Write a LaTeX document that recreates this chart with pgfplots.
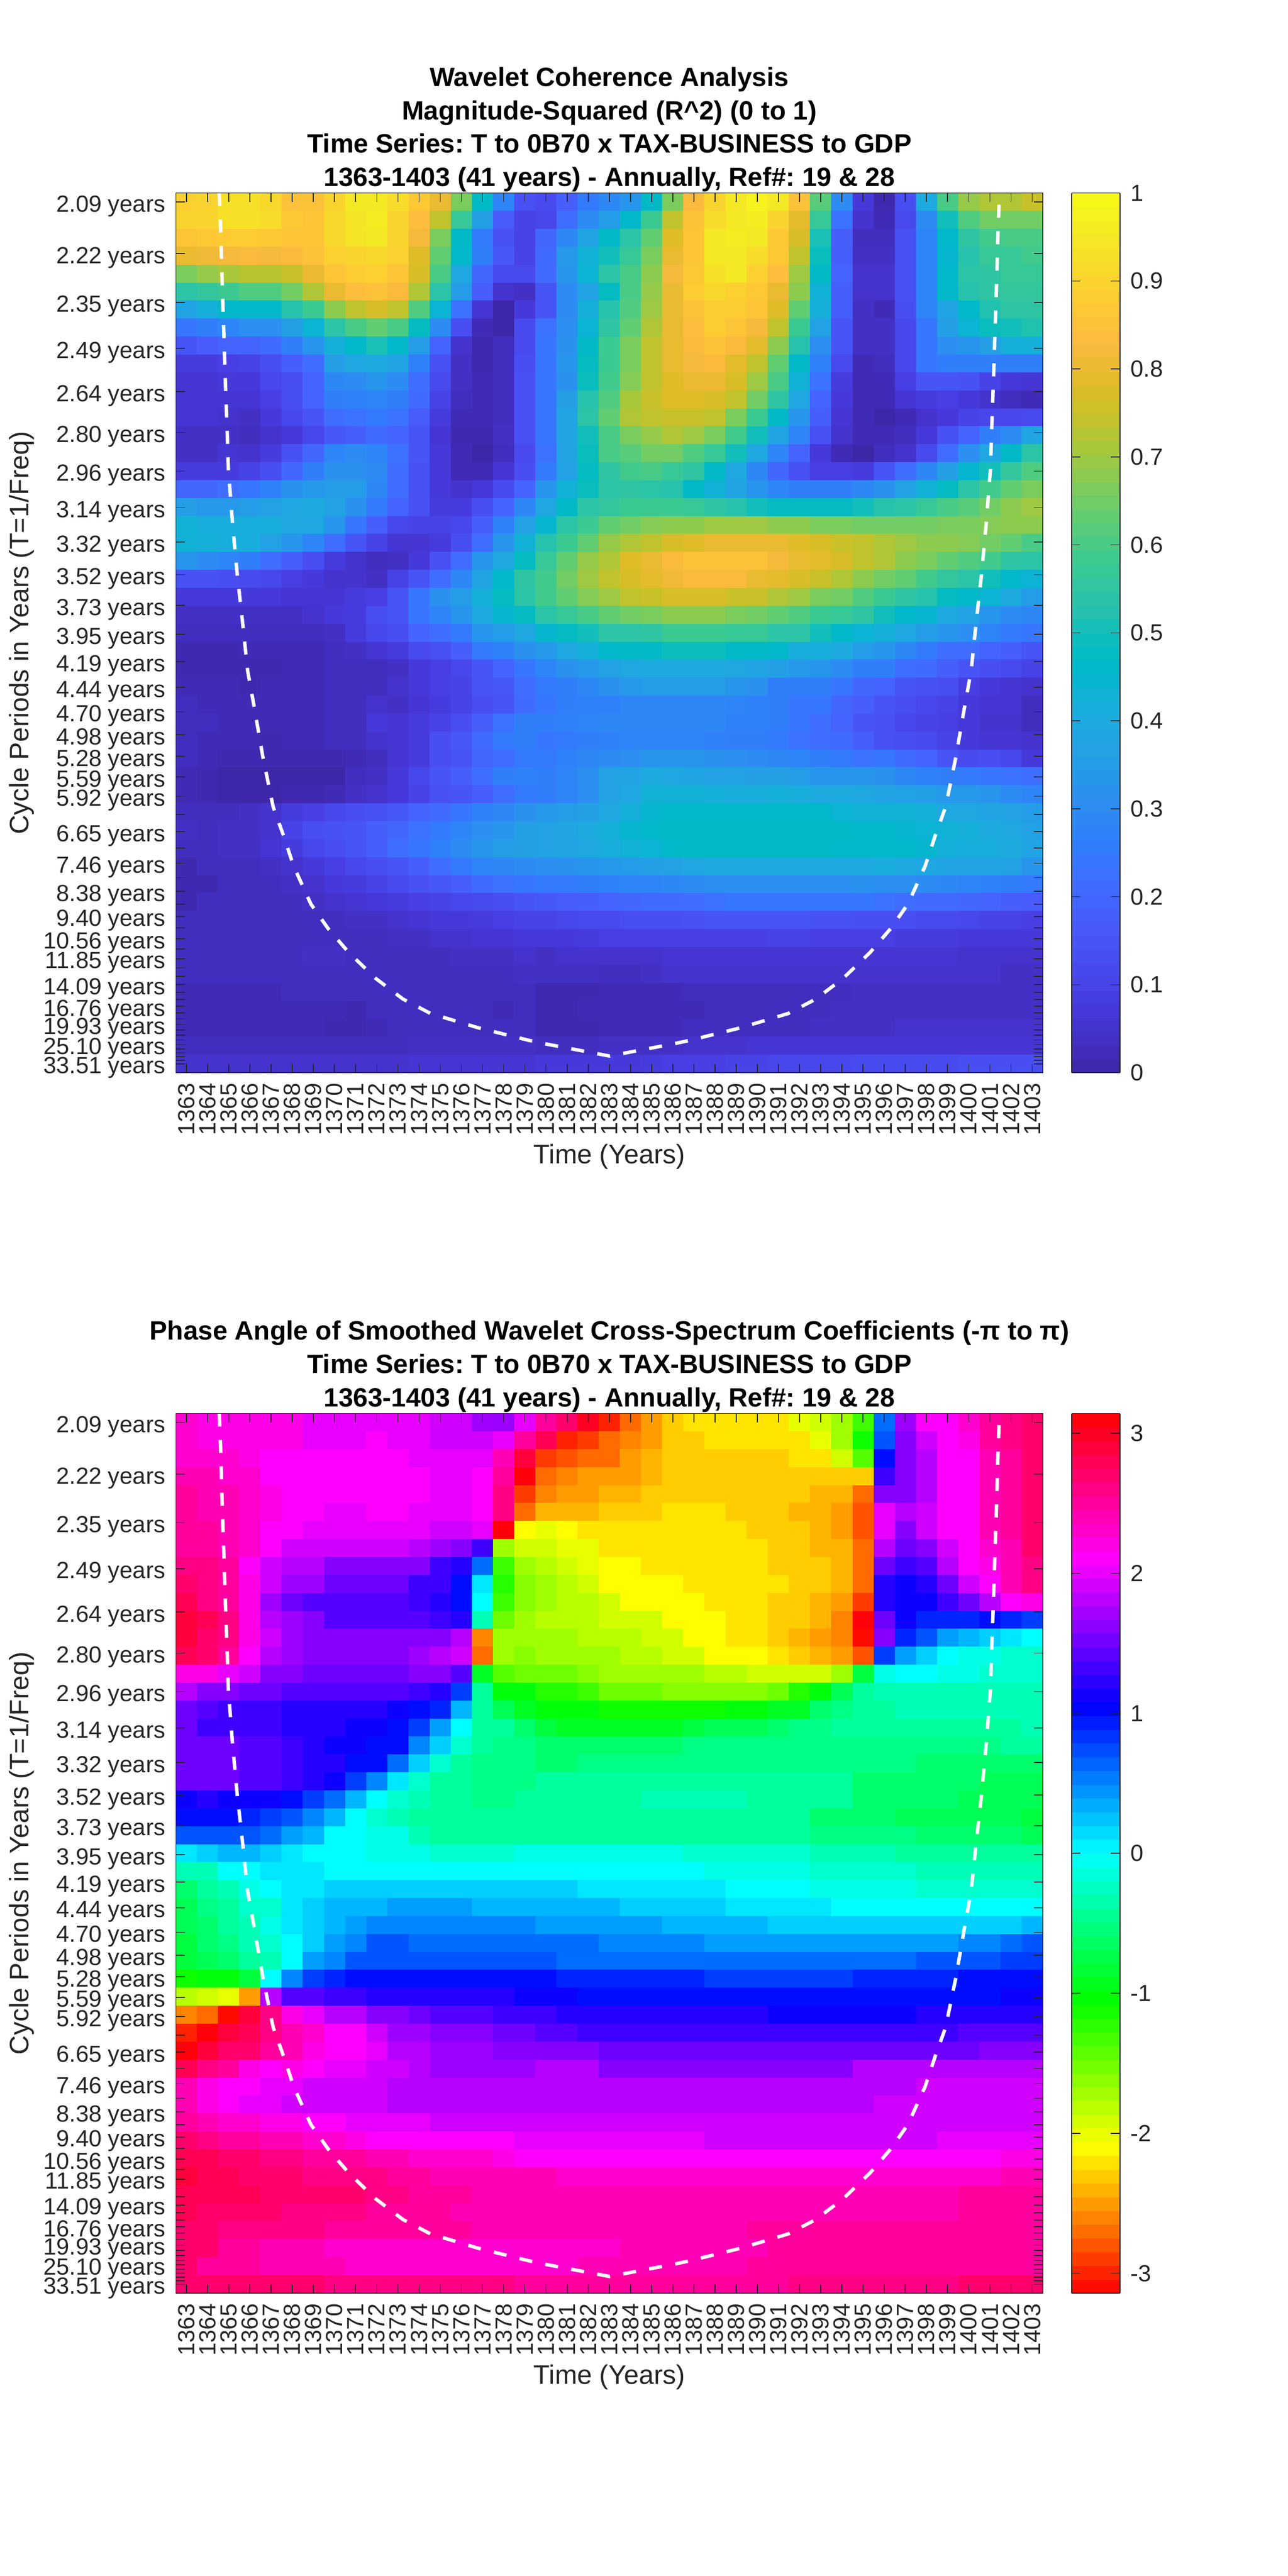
\documentclass[border=0pt]{standalone}
\usepackage{fontspec}
\setmainfont{Liberation Sans}
\usepackage{pgfplots}
\usepackage{pgfplotstable}
\pgfplotsset{compat=1.18}
\definecolor{mgray}{rgb}{0.15,0.15,0.15}
\pgfdeclareplotmark{cell}{\pgfpathrectangle{\pgfqpoint{-6.2384pt}{-5.3084pt}}{\pgfqpoint{12.4768pt}{10.6168pt}}\pgfusepathqfill}
\pgfplotsset{
colormap={parula}{rgb=(.2422,.1504,.6603) rgb=(.2504,.1650,.7076) rgb=(.2578,.1818,.7511) rgb=(.2647,.1978,.7952) rgb=(.2706,.2147,.8364) rgb=(.2751,.2342,.8710) rgb=(.2783,.2559,.8991) rgb=(.2803,.2782,.9221) rgb=(.2813,.3006,.9414) rgb=(.2810,.3228,.9579) rgb=(.2795,.3447,.9717) rgb=(.2760,.3667,.9829) rgb=(.2699,.3892,.9906) rgb=(.2602,.4123,.9952) rgb=(.2440,.4358,.9988) rgb=(.2206,.4603,.9973) rgb=(.1963,.4847,.9892) rgb=(.1834,.5074,.9798) rgb=(.1786,.5289,.9682) rgb=(.1764,.5499,.9520) rgb=(.1687,.5703,.9359) rgb=(.1540,.5902,.9218) rgb=(.1460,.6091,.9079) rgb=(.1380,.6276,.8973) rgb=(.1248,.6459,.8883) rgb=(.1113,.6635,.8763) rgb=(.0952,.6798,.8598) rgb=(.0689,.6948,.8394) rgb=(.0297,.7082,.8163) rgb=(.0036,.7203,.7917) rgb=(.0067,.7312,.7660) rgb=(.0433,.7411,.7394) rgb=(.0964,.7500,.7120) rgb=(.1408,.7584,.6842) rgb=(.1717,.7670,.6554) rgb=(.1938,.7758,.6251) rgb=(.2161,.7843,.5923) rgb=(.2470,.7918,.5567) rgb=(.2906,.7973,.5188) rgb=(.3406,.8008,.4789) rgb=(.3909,.8029,.4354) rgb=(.4456,.8024,.3909) rgb=(.5044,.7993,.3480) rgb=(.5616,.7942,.3045) rgb=(.6174,.7876,.2612) rgb=(.6720,.7793,.2227) rgb=(.7242,.7698,.1910) rgb=(.7738,.7598,.1646) rgb=(.8203,.7498,.1535) rgb=(.8634,.7406,.1596) rgb=(.9035,.7330,.1774) rgb=(.9393,.7288,.2100) rgb=(.9728,.7298,.2394) rgb=(.9956,.7434,.2371) rgb=(.9970,.7659,.2199) rgb=(.9952,.7893,.2028) rgb=(.9892,.8136,.1885) rgb=(.9786,.8386,.1766) rgb=(.9676,.8639,.1643) rgb=(.9610,.8890,.1537) rgb=(.9597,.9135,.1423) rgb=(.9628,.9373,.1265) rgb=(.9691,.9606,.1064) rgb=(.9769,.9839,.0805)},
colormap={hsvm}{rgb=(1,0,0) rgb=(1,1,0) rgb=(0,1,0) rgb=(0,1,1) rgb=(0,0,1) rgb=(1,0,1) rgb=(1,0,0)},
wstyle/.style={
 scale only axis, width=504.96pt, height=512.4pt,
 xmin=1362.5, xmax=1403.5, ymin=-0.5, ymax=48.5, y dir=reverse,
 axis on top, clip marker paths=true, tick align=inside, tick pos=both,
 xticklabel pos=lower, yticklabel pos=left,
 major tick length=5.2pt,
 axis line style={color=mgray,line width=0.5pt},
 every tick/.style={color=mgray,line width=0.5pt},
 xtick={1363,...,1403},
 xticklabels={1363,1364,1365,1366,1367,1368,1369,1370,1371,1372,1373,1374,1375,1376,1377,1378,1379,1380,1381,1382,1383,1384,1385,1386,1387,1388,1389,1390,1391,1392,1393,1394,1395,1396,1397,1398,1399,1400,1401,1402,1403},
 ytick={0,2.874,5.586,8.146,10.562,12.843,14.996,17.028,18.946,20.757,22.465,24.078,25.6,27.037,28.393,29.673,30.881,32.022,33.098,34.114,35.073,35.978,36.833,37.639,38.4,39.118,39.797,40.437,41.040,41.611,42.149,42.657,43.137,43.589,44.016,44.420,44.8,45.159,45.498,45.818,46.120,46.406,46.674,46.928,47.168,47.394,47.608,47.810,48},
 yticklabels={2.09 years,2.22 years,2.35 years,2.49 years,2.64 years,2.80 years,2.96 years,3.14 years,3.32 years,3.52 years,3.73 years,3.95 years,4.19 years,4.44 years,4.70 years,4.98 years,5.28 years,5.59 years,5.92 years,{},6.65 years,{},7.46 years,{},8.38 years,{},9.40 years,{},10.56 years,{},11.85 years,{},{},14.09 years,{},{},16.76 years,{},{},19.93 years,{},{},{},25.10 years,{},{},{},{},33.51 years},
 xticklabel style={rotate=90,anchor=east,inner sep=0pt,font=\fontsize{13.6}{13.6}\selectfont,text=mgray},
 yticklabel style={anchor=east,inner sep=0pt,yshift=-2.4pt,font=\fontsize{13.6}{13.6}\selectfont,text=mgray},
 xticklabel shift=6pt, yticklabel shift=6pt,
 xlabel={Time (Years)}, ylabel={Cycle Periods in Years (T=1/Freq)},
 every axis x label/.style={at={(axis description cs:0.5,0)},yshift=-49pt,anchor=center,font=\fontsize{15.6}{18}\selectfont,text=mgray},
 every axis y label/.style={at={(axis description cs:0,0.5)},xshift=-90pt,rotate=90,anchor=center,font=\fontsize{15.6}{18}\selectfont,text=mgray},
 title style={at={(axis description cs:0.5,1)},anchor=south,align=center,inner sep=0pt,yshift=-5.4pt,font=\fontsize{15.4}{19.4}\selectfont\bfseries},
 colorbar, colorbar sampled,
},
cbstyle/.style={
 at={(parent axis.north east)}, xshift=8.26pt, anchor=north west,
 width=28.08pt, height=512.4pt, scale only axis, samples=65,
 tick align=inside, major tick length=5.2pt,
 axis line style={color=mgray,line width=0.5pt},
 every tick/.style={color=mgray,line width=0.5pt},
 yticklabel pos=right, yticklabel shift=6pt,
 yticklabel style={anchor=west,inner sep=0pt,font=\fontsize{13.6}{13.6}\selectfont,text=mgray},
},
}
\pgfplotstableread[header=false]{
89 90 93 93 91 85 85 90 95 95 92 87 80 66 47 28 14 12 18 25 29 33 47 66 83 90 95 98 95 85 62 30 7 1 13 40 60 69 72 72 75
90 90 93 93 92 87 86 91 94 96 90 84 74 57 36 17 10 11 22 30 35 46 58 74 85 92 95 96 90 79 57 23 5 2 12 30 50 61 65 65 65
86 87 88 88 87 86 86 91 94 95 90 82 66 47 25 14 10 20 29 38 47 54 63 78 86 95 96 95 87 77 51 18 3 3 14 28 46 55 59 60 60
80 81 82 83 82 83 85 89 90 91 89 78 63 46 26 16 10 21 34 43 50 57 66 80 86 95 95 92 87 74 49 18 4 4 14 28 45 53 57 57 59
66 69 71 73 73 75 80 86 88 89 86 77 60 39 20 12 12 21 33 44 54 60 68 82 87 93 95 89 84 70 47 19 5 5 14 28 46 54 55 57 57
54 56 58 61 61 65 72 80 84 85 83 72 54 35 17 5 4 15 30 38 48 60 69 80 88 91 89 87 80 68 43 18 5 5 14 28 46 53 55 56 56
38 42 46 46 46 53 58 68 74 77 74 61 44 23 6 0 7 15 30 42 53 61 70 80 85 88 88 86 78 63 42 18 4 2 13 28 38 46 52 55 55
24 26 28 31 31 36 44 54 60 63 60 48 30 13 2 0 12 23 31 44 55 63 72 80 84 88 86 82 74 58 37 15 4 4 11 24 36 44 49 50 52
15 17 19 19 21 26 33 42 46 51 46 35 19 5 1 3 12 24 32 47 58 66 74 80 83 85 83 79 68 53 31 15 4 4 11 24 31 33 36 42 42
8 8 9 10 13 18 22 36 39 40 38 27 14 4 1 3 13 24 33 48 58 66 74 80 82 83 79 74 63 47 27 12 2 3 11 24 26 26 26 26 26
6 6 7 7 11 13 19 29 30 33 30 22 12 4 2 3 14 24 32 49 59 67 74 78 80 80 77 70 60 43 23 8 2 2 9 15 15 14 10 7 6
6 6 6 6 9 13 19 26 27 28 26 21 10 3 2 3 14 24 36 53 61 71 75 78 78 77 74 65 55 39 19 7 2 2 6 8 9 7 5 3 2
6 6 5 4 7 11 15 22 23 25 23 17 8 2 2 3 14 24 38 54 63 72 74 75 75 74 66 58 47 33 18 6 2 0 2 5 7 10 11 11 12
4 4 4 3 5 7 11 16 18 21 19 15 6 1 1 4 14 24 38 50 60 66 69 72 70 66 59 50 38 28 14 5 2 2 3 7 14 19 26 30 38
4 4 6 5 8 14 20 28 30 28 23 15 7 2 0 3 12 23 38 49 60 62 65 65 61 57 50 39 28 19 7 2 0 3 5 12 22 31 39 47 54
8 8 8 10 13 20 26 32 32 30 22 14 7 2 2 6 13 25 37 48 55 59 60 57 55 47 39 29 20 14 9 9 8 15 22 29 36 45 50 56 61
20 20 22 24 27 32 34 35 35 29 22 14 7 5 7 12 19 33 43 49 54 55 54 53 47 43 38 33 28 26 26 26 29 32 37 43 48 54 59 63 66
36 34 34 35 37 39 40 37 32 25 19 14 8 8 13 19 29 39 47 54 56 58 58 58 57 55 53 50 48 48 48 48 50 53 54 57 60 62 65 68 70
43 41 41 41 41 39 39 33 24 18 11 10 10 11 18 27 37 45 54 58 63 65 67 68 68 70 70 70 68 68 66 66 65 65 65 65 66 66 67 68 68
43 42 41 41 37 33 28 22 15 10 6 6 8 13 22 33 43 53 58 63 69 72 74 77 78 80 80 80 80 78 77 75 74 72 70 68 68 67 65 63 60
33 30 28 26 22 18 13 8 5 3 4 7 14 22 33 39 48 57 63 69 72 78 80 83 85 85 85 85 82 80 79 77 74 72 68 66 63 61 59 55 54
14 14 13 12 11 9 7 5 5 4 10 15 22 29 38 46 55 59 65 70 74 77 79 81 83 83 83 80 79 77 75 72 68 65 63 59 56 54 50 46 44
7 7 7 7 7 6 6 6 8 9 15 24 32 35 42 48 54 59 63 67 70 74 75 77 77 77 75 75 72 70 66 65 61 58 55 53 48 46 44 40 35
4 4 4 4 4 4 5 7 8 13 15 24 28 33 40 45 48 54 57 60 63 65 66 68 68 68 66 65 63 61 58 57 55 50 46 45 40 38 33 30 29
3 3 3 3 3 3 3 4 8 11 13 19 22 25 33 35 39 45 48 50 54 54 55 58 58 58 57 57 54 54 50 46 44 42 39 35 33 31 28 25 24
1 1 1 2 2 2 2 3 4 6 8 12 14 18 25 27 32 34 39 42 46 47 47 49 49 49 47 47 46 41 41 40 35 33 29 25 22 22 19 18 15
1 1 1 1 1 2 2 3 3 3 4 7 9 11 15 19 24 28 32 34 37 39 40 40 40 40 39 38 36 34 33 30 26 26 22 21 18 15 13 12 10
2 2 2 1 2 2 2 3 3 3 5 7 9 10 15 16 22 25 26 29 32 34 35 35 35 35 33 32 26 26 26 24 20 19 15 14 13 9 7 6 5
3 2 2 2 2 2 2 3 3 5 4 6 8 10 13 15 21 24 26 27 27 29 29 29 29 29 28 27 26 24 24 20 18 15 13 11 10 7 6 6 3
3 3 2 2 2 2 2 3 3 7 6 8 10 13 18 23 26 26 27 28 29 29 29 29 29 29 27 27 26 24 22 19 15 14 11 10 9 7 5 5 3
3 2 2 2 1 2 2 3 3 5 6 8 13 16 21 25 26 24 25 26 27 28 28 28 28 27 26 26 25 23 22 21 18 14 13 12 10 7 6 6 5
3 2 1 1 1 1 1 1 2 3 6 8 13 15 20 22 25 25 27 29 30 31 33 33 33 32 31 30 29 28 26 25 23 24 21 19 15 12 13 11 7
2 1 0 0 0 0 0 0 3 4 7 11 15 18 22 26 27 26 28 31 37 38 40 39 38 37 37 36 36 35 33 33 33 32 29 27 26 25 24 23 22
2 1 0 0 0 1 1 2 4 5 7 10 14 15 18 22 25 26 28 31 37 39 43 43 43 42 41 41 42 41 40 40 39 38 37 36 34 34 33 30 28
3 3 3 4 5 8 9 11 13 14 16 19 21 24 27 29 32 34 35 36 39 42 45 46 46 46 46 46 46 46 46 44 43 43 43 42 39 39 38 37 35
4 3 4 4 5 10 13 14 15 18 20 23 25 28 31 33 36 37 38 40 42 45 46 47 47 47 47 47 47 47 47 47 46 46 45 44 43 42 40 39 37
3 3 4 4 6 8 11 13 15 18 22 24 27 30 33 35 36 37 38 39 41 43 44 46 47 47 47 47 47 47 47 46 46 46 46 45 42 41 41 40 38
1 3 3 3 4 5 7 9 11 13 15 18 22 25 28 29 30 31 32 33 34 35 36 37 39 40 40 40 40 40 40 40 40 41 40 39 38 38 38 37 33
1 1 3 3 3 4 5 7 8 10 12 14 16 18 21 23 24 25 25 26 27 28 28 29 30 31 31 31 31 31 31 31 32 31 31 30 29 28 27 26 25
1 3 3 3 3 3 4 5 6 7 8 9 10 11 12 13 15 16 17 18 19 20 21 21 22 23 24 24 24 24 24 24 24 23 22 21 21 20 19 18 17
3 3 3 3 3 3 3 3 4 4 5 6 7 7 8 9 10 10 11 12 12 13 13 13 14 15 15 15 15 15 14 14 13 13 13 12 12 11 10 10 9
3 3 3 3 3 3 3 3 3 3 4 4 5 5 6 6 7 7 7 8 9 9 9 9 9 9 9 9 10 10 9 9 9 9 8 8 8 7 7 7 7
3 3 3 3 3 3 4 4 3 3 3 3 3 4 4 4 5 4 5 5 5 5 5 6 6 6 6 6 6 6 6 6 6 6 6 6 6 5 5 5 5
3 3 3 3 3 3 3 3 3 3 3 3 3 3 3 3 4 4 4 4 3 3 4 5 5 5 5 5 5 5 5 5 5 5 5 5 5 5 5 4 4
2 2 2 2 2 3 3 3 3 3 3 3 3 3 3 3 3 1 1 1 2 2 2 2 3 3 3 3 3 3 3 3 4 4 4 4 4 4 4 4 4
2 2 2 2 2 2 2 2 1 3 3 3 3 3 3 2 3 1 1 2 2 2 2 2 2 3 3 3 3 3 3 4 4 4 4 4 4 4 4 4 4
2 2 2 2 2 2 2 1 1 2 3 3 3 3 3 3 3 1 1 1 2 2 2 2 3 3 3 3 3 3 4 4 4 4 5 5 5 5 5 5 5
3 3 3 3 3 3 3 3 3 3 3 4 4 4 4 4 4 3 3 3 4 4 4 4 5 5 5 6 6 6 6 6 6 6 6 6 6 6 6 6 6
5 5 5 5 5 5 5 5 5 5 5 6 6 6 6 6 6 7 7 7 7 7 8 9 9 9 10 10 11 11 11 11 12 12 12 12 12 13 13 13 13
}\dataA
\pgfplotstableread[header=false]{
23 22 22 22 22 22 20 20 20 20 20 20 19 19 17 17 20 25 27 30 -30 -27 -25 -23 -22 -22 -22 -22 -22 -20 -19 -17 -13 6 17 21 21 23 25 26 27
23 22 22 22 22 22 20 20 20 21 20 20 19 19 19 20 25 28 -30 -29 -27 -26 -25 -23 -23 -22 -22 -22 -22 -22 -20 -17 -11 7 16 19 21 22 25 26 27
23 23 23 22 21 21 21 21 21 21 21 20 20 20 20 24 29 -29 -28 -27 -27 -25 -24 -23 -23 -23 -23 -23 -23 -22 -22 -19 -14 10 16 18 21 21 24 25 27
24 24 23 23 21 21 21 21 21 21 21 21 20 20 21 25 31 -27 -26 -25 -25 -25 -24 -23 -23 -23 -23 -23 -23 -23 -23 -23 -23 13 16 18 21 21 24 25 27
25 24 24 23 22 21 21 21 21 21 21 21 20 20 21 26 -29 -26 -25 -25 -24 -24 -23 -23 -23 -23 -23 -23 -23 -23 -24 -24 -27 16 16 18 21 21 24 25 27
25 24 24 23 22 21 21 20 20 21 21 20 20 20 21 26 -27 -24 -24 -24 -23 -23 -23 -22 -22 -22 -23 -23 -23 -24 -24 -25 -28 20 18 19 21 21 24 25 27
25 25 24 23 21 21 20 20 20 20 20 20 19 19 20 31 -21 -20 -21 -22 -22 -22 -22 -22 -22 -22 -22 -23 -23 -23 -24 -25 -28 20 16 19 21 21 24 25 27
25 25 24 23 21 19 19 19 19 19 19 18 17 16 13 -17 -19 -19 -20 -20 -22 -22 -22 -22 -22 -22 -22 -22 -23 -23 -24 -24 -27 18 15 16 19 21 23 24 27
26 26 25 21 19 18 18 16 16 16 16 16 13 12 6 -13 -17 -18 -19 -20 -21 -21 -22 -22 -22 -22 -22 -22 -23 -23 -23 -24 -27 15 13 14 18 21 22 24 26
27 26 25 22 19 17 17 15 15 15 15 13 13 10 1 -12 -16 -17 -18 -19 -21 -21 -21 -21 -22 -22 -22 -22 -22 -23 -23 -24 -27 12 11 12 15 19 21 24 26
28 26 25 22 17 15 14 14 14 14 14 13 12 10 0 -13 -16 -17 -18 -18 -19 -21 -21 -21 -21 -22 -22 -22 -23 -23 -24 -25 -29 12 11 11 13 15 18 21 22
29 28 26 22 18 17 16 14 14 14 14 14 13 12 -3 -15 -17 -18 -18 -18 -19 -19 -19 -21 -21 -21 -22 -22 -23 -23 -24 -26 31 15 11 9 9 9 10 9 8
29 27 26 22 19 17 16 16 16 16 16 16 16 18 -26 -17 -17 -17 -17 -18 -18 -18 -19 -19 -21 -21 -22 -22 -23 -24 -25 -26 -31 16 9 7 4 3 2 1 0
28 27 25 21 18 17 16 16 16 16 16 17 18 19 -27 -17 -16 -17 -17 -17 -17 -18 -18 -19 -19 -21 -21 -21 -22 -23 -24 -25 -28 8 4 2 0 -1 -1 -2 -2
22 22 20 19 16 16 15 15 15 15 15 16 16 14 -9 -14 -15 -15 -15 -16 -17 -17 -17 -17 -17 -18 -18 -19 -19 -19 -19 -17 -8 -1 0 0 -1 -1 -2 -2 -2
18 16 16 15 15 14 14 14 14 14 14 13 12 8 -4 -10 -10 -12 -12 -13 -15 -15 -15 -16 -16 -16 -16 -16 -15 -12 -10 -7 -4 -3 -3 -3 -3 -3 -3 -3 -3
15 14 13 13 13 12 12 12 12 12 11 10 9 3 -4 -7 -9 -10 -10 -10 -11 -11 -11 -11 -11 -11 -10 -10 -9 -9 -6 -5 -4 -4 -3 -3 -3 -3 -3 -3 -3
15 13 13 13 13 12 12 12 11 11 10 8 4 0 -4 -4 -6 -8 -9 -9 -9 -9 -9 -9 -8 -7 -7 -7 -6 -5 -5 -4 -4 -4 -4 -4 -4 -4 -4 -4 -3
15 15 15 14 14 13 12 11 11 10 10 5 2 -2 -4 -5 -5 -6 -6 -6 -6 -6 -6 -6 -5 -5 -5 -5 -5 -5 -5 -5 -5 -5 -5 -5 -5 -5 -5 -4 -4
15 15 15 14 14 13 12 12 10 10 6 2 -2 -4 -5 -5 -5 -6 -6 -5 -5 -5 -5 -5 -5 -5 -5 -5 -5 -5 -5 -5 -5 -5 -5 -6 -6 -6 -6 -6 -6
15 15 15 14 14 13 12 11 8 5 1 -2 -4 -4 -5 -5 -5 -4 -4 -4 -4 -4 -4 -4 -4 -4 -4 -4 -4 -4 -4 -4 -6 -6 -6 -6 -6 -6 -7 -7 -7
11 12 11 11 11 10 8 6 3 0 -2 -3 -4 -4 -5 -5 -4 -4 -4 -4 -4 -4 -3 -3 -3 -3 -3 -4 -4 -4 -4 -4 -6 -6 -6 -6 -6 -7 -7 -7 -7
10 10 10 9 8 7 5 3 0 -2 -3 -4 -4 -4 -4 -4 -4 -4 -4 -4 -4 -4 -4 -4 -4 -4 -4 -4 -4 -4 -6 -6 -6 -6 -7 -7 -7 -7 -7 -7 -8
7 7 7 7 6 4 3 0 0 -1 -1 -3 -4 -4 -4 -4 -4 -4 -4 -4 -4 -4 -4 -4 -4 -4 -4 -4 -4 -4 -5 -5 -5 -5 -5 -6 -6 -6 -6 -6 -7
1 2 3 3 2 1 0 0 0 -1 -1 -1 -2 -2 -2 -2 -1 -1 -1 -1 -1 -1 -1 -1 -2 -2 -2 -2 -2 -2 -3 -3 -3 -3 -4 -4 -4 -4 -4 -4 -4
-3 -3 0 0 1 1 1 0 0 0 0 0 0 0 0 0 0 0 0 0 0 0 0 0 0 -1 -1 -1 -1 -1 -2 -2 -2 -2 -2 -3 -3 -3 -3 -3 -3
-6 -4 -3 -1 0 1 1 2 2 2 2 2 2 2 2 2 2 2 2 1 1 1 1 1 1 1 0 0 0 0 -1 -1 -1 -1 -1 -2 -2 -2 -2 -2 -2
-7 -5 -4 -2 -2 1 2 3 3 3 4 4 4 4 3 3 3 3 3 3 3 2 2 2 2 2 1 1 1 1 1 0 0 0 0 0 0 0 0 0 0
-7 -6 -4 -3 -1 1 2 3 4 5 5 5 5 5 5 5 5 4 4 4 4 4 4 3 3 3 3 3 2 2 2 2 2 2 2 2 2 2 2 2 3
-8 -6 -5 -3 -2 0 2 4 5 7 7 6 6 6 6 6 6 6 6 6 5 5 5 5 5 4 4 4 4 4 4 4 4 4 4 4 4 5 5 6 7
-8 -7 -6 -4 -3 0 4 5 7 7 7 7 7 7 7 7 7 7 6 6 6 6 6 6 6 6 6 6 6 6 6 6 6 6 6 7 7 7 7 8 8
-11 -10 -10 -8 0 5 8 9 10 10 10 10 10 10 10 10 10 10 9 9 9 9 9 9 9 8 8 8 8 8 8 8 9 9 9 9 9 10 10 10 10
-18 -19 -20 -25 18 14 14 13 13 12 12 12 12 12 12 12 11 11 11 10 10 10 10 10 10 10 10 10 10 10 10 10 10 10 10 10 10 10 10 11 11
-26 -27 -31 29 26 22 20 18 18 16 16 15 14 14 14 13 13 13 12 12 12 12 12 12 12 12 12 12 11 11 11 11 11 11 11 12 12 12 12 12 12
-30 31 29 28 26 24 23 21 21 19 17 17 16 16 16 15 15 14 14 13 13 13 13 13 13 13 13 13 13 13 13 13 13 13 13 13 13 14 14 14 14
31 29 27 27 25 24 22 21 21 20 18 18 17 17 17 16 16 16 16 16 15 15 15 15 15 15 15 15 15 15 15 15 15 15 15 15 15 15 16 16 16
28 26 25 22 21 22 21 20 20 19 19 18 17 17 17 17 17 18 18 18 16 16 16 16 16 16 16 16 16 16 16 16 18 18 18 18 18 18 18 18 18
24 22 21 21 20 20 19 19 19 19 18 18 18 18 18 18 18 18 18 18 18 18 18 18 18 18 18 18 18 18 18 18 18 18 18 19 19 19 19 19 19
24 22 21 20 20 19 19 19 19 19 18 18 18 18 18 18 18 18 18 18 18 18 18 18 18 18 18 18 18 18 18 18 18 19 19 19 19 19 19 19 19
25 24 23 23 22 22 21 21 20 20 20 20 19 19 19 19 19 19 19 19 19 19 19 19 19 19 19 19 19 19 19 19 19 19 19 19 19 19 19 19 19
27 26 25 25 24 24 23 23 22 21 21 21 21 21 21 21 20 20 20 20 20 20 20 20 20 19 19 19 19 19 19 19 19 19 19 19 20 20 20 20 20
28 28 27 27 26 26 25 25 25 24 24 23 23 23 23 22 21 21 21 21 21 21 21 21 21 21 21 21 21 21 21 21 21 21 21 21 21 21 21 22 22
29 28 28 27 27 27 26 26 26 26 25 25 24 24 24 24 24 24 23 23 23 23 23 23 23 23 23 23 23 23 23 23 23 23 23 23 23 23 23 24 24
28 28 28 28 27 27 27 27 27 26 26 25 25 25 24 24 24 24 24 24 24 24 24 24 24 24 24 24 24 24 24 24 24 24 24 24 24 25 25 25 25
28 27 27 27 27 26 26 26 26 25 25 25 25 24 24 24 24 24 24 24 24 24 24 24 24 24 24 24 24 24 24 24 24 24 24 24 24 25 25 25 25
27 27 26 26 26 26 26 25 25 25 25 25 25 25 24 24 24 24 24 24 24 24 24 24 24 24 24 25 25 25 25 25 25 25 25 25 25 25 25 25 25
27 27 25 25 24 24 24 23 23 23 23 23 23 23 23 23 23 23 23 23 23 24 24 24 24 24 24 24 25 25 25 25 25 25 25 25 25 25 25 25 25
27 25 25 25 24 24 24 24 23 23 23 23 23 23 23 23 23 23 23 24 24 24 24 24 24 24 24 25 25 25 25 25 25 25 25 25 25 25 25 25 25
27 27 27 27 27 27 27 26 26 26 26 26 26 26 26 26 25 25 25 25 25 25 25 25 25 25 25 25 25 26 26 26 26 26 26 26 26 27 27 27 27
}\dataB
\begin{document}
\frenchspacing
\begin{tikzpicture}[x=1pt,y=1pt]
\path[use as bounding box] (0,0) rectangle (750,1500.48);
\begin{axis}[wstyle, at={(102.48pt,875.64pt)}, anchor=south west,
 colormap name=parula, point meta min=0, point meta max=1,
 title={Wavelet Coherence Analysis\\Magnitude-Squared (R\textasciicircum 2) (0 to 1)\\Time Series: T to 0B70 x TAX-BUSINESS to GDP\\1363-1403 (41 years) - Annually, Ref\#: 19 \& 28},
 colorbar style={cbstyle, ytick={0,0.1,...,1}, yticklabels={0,0.1,0.2,0.3,0.4,0.5,0.6,0.7,0.8,0.9,1}},
]
\pgfplotsinvokeforeach{0,...,40}{
 \addplot[scatter,only marks,mark=cell,scatter src=explicit]
  table[x expr=1363+#1,y expr=\coordindex,meta expr=\thisrowno{#1}/100] {\dataA};
}
\addplot[white,line width=2pt,mark=none,solid,dash pattern=on 7.6pt off 7.8pt] coordinates {(1364.55,-0.5) (1364.61,1.29) (1364.68,4.23) (1364.76,7.15) (1364.84,10.08) (1364.93,13.0) (1364.98,14.9) (1365.17,17.8) (1365.40,20.75) (1365.66,23.5) (1365.89,26.1) (1366.22,28.25) (1366.61,30.9) (1367.10,33.7) (1367.59,35.3) (1368.07,37.0) (1368.88,39.1) (1369.69,40.46) (1370.67,41.8) (1371.95,43.25) (1373.24,44.4) (1374.54,45.2) (1376.8,46.0) (1379.2,46.7) (1380.0,46.9) (1383,47.57) (1386.0,46.9) (1386.8,46.7) (1389.2,46.0) (1391.46,45.2) (1392.76,44.4) (1394.05,43.25) (1395.33,41.8) (1396.31,40.46) (1397.12,39.1) (1397.93,37.0) (1398.41,35.3) (1398.90,33.7) (1399.39,30.9) (1399.78,28.25) (1400.11,26.1) (1400.34,23.5) (1400.60,20.75) (1400.83,17.8) (1401.02,14.9) (1401.07,13.0) (1401.16,10.08) (1401.24,7.15) (1401.32,4.23) (1401.39,1.29) (1401.45,-0.5)};
\end{axis}
\begin{axis}[wstyle, at={(102.48pt,164.76pt)}, anchor=south west,
 colormap name=hsvm, point meta min=-3.14159, point meta max=3.14159,
 title={Phase Angle of Smoothed Wavelet Cross-Spectrum Coefficients (-π to π)\\Time Series: T to 0B70 x TAX-BUSINESS to GDP\\1363-1403 (41 years) - Annually, Ref\#: 19 \& 28},
 colorbar style={cbstyle, ytick={-3,-2,-1,0,1,2,3}, yticklabels={-3,-2,-1,0,1,2,3}},
]
\pgfplotsinvokeforeach{0,...,40}{
 \addplot[scatter,only marks,mark=cell,scatter src=explicit]
  table[x expr=1363+#1,y expr=\coordindex,meta expr=\thisrowno{#1}/10] {\dataB};
}
\addplot[white,line width=2pt,mark=none,solid,dash pattern=on 7.6pt off 7.8pt] coordinates {(1364.55,-0.5) (1364.61,1.29) (1364.68,4.23) (1364.76,7.15) (1364.84,10.08) (1364.93,13.0) (1364.98,14.9) (1365.17,17.8) (1365.40,20.75) (1365.66,23.5) (1365.89,26.1) (1366.22,28.25) (1366.61,30.9) (1367.10,33.7) (1367.59,35.3) (1368.07,37.0) (1368.88,39.1) (1369.69,40.46) (1370.67,41.8) (1371.95,43.25) (1373.24,44.4) (1374.54,45.2) (1376.8,46.0) (1379.2,46.7) (1380.0,46.9) (1383,47.57) (1386.0,46.9) (1386.8,46.7) (1389.2,46.0) (1391.46,45.2) (1392.76,44.4) (1394.05,43.25) (1395.33,41.8) (1396.31,40.46) (1397.12,39.1) (1397.93,37.0) (1398.41,35.3) (1398.90,33.7) (1399.39,30.9) (1399.78,28.25) (1400.11,26.1) (1400.34,23.5) (1400.60,20.75) (1400.83,17.8) (1401.02,14.9) (1401.07,13.0) (1401.16,10.08) (1401.24,7.15) (1401.32,4.23) (1401.39,1.29) (1401.45,-0.5)};
\end{axis}
\end{tikzpicture}
\end{document}
